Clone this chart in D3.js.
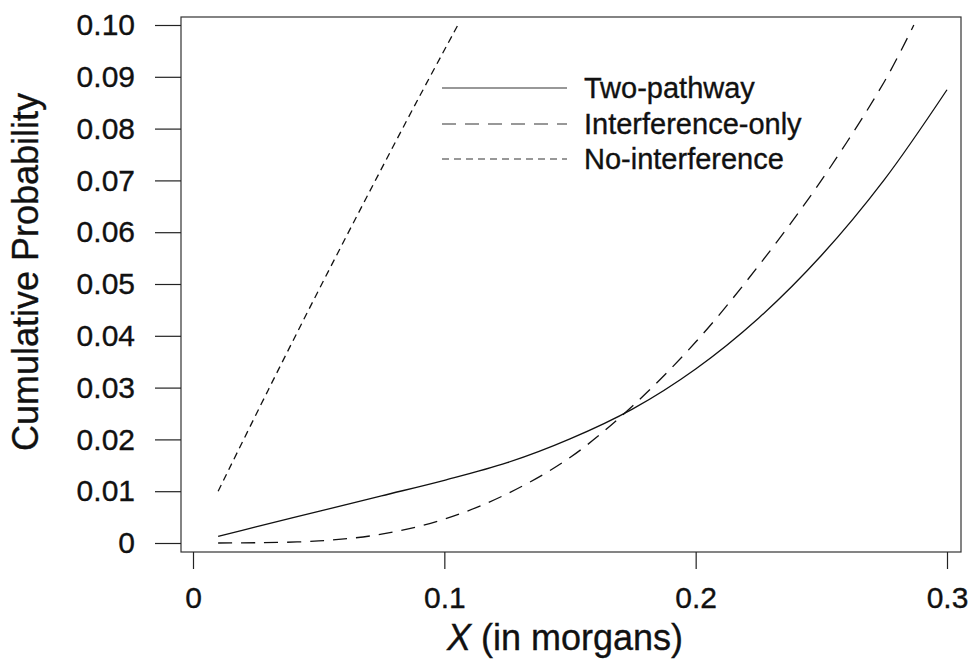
<!DOCTYPE html>
<html>
<head>
<meta charset="utf-8">
<script src="https://cdn.jsdelivr.net/npm/d3@7/dist/d3.min.js"></script>
<style>
  body { margin: 0; background: #fff; }
  text { font-family: "Liberation Sans", Arial, Helvetica, sans-serif; fill: #111; stroke: #111; stroke-width: 0.35px; }
</style>
</head>
<body>
<div id="chart"></div>
<script>
// values
var twoX = [0.01, 0.025, 0.05, 0.075, 0.1, 0.125, 0.15, 0.175, 0.2, 0.225, 0.25, 0.275, 0.3];
var twoP = [0.0013, 0.0031, 0.0061, 0.0091, 0.0121, 0.0155, 0.0201, 0.0259, 0.0336, 0.0434, 0.0555, 0.0701, 0.0875];

var intX = [0.01, 0.025, 0.05, 0.075, 0.1, 0.125, 0.15, 0.175, 0.2, 0.225, 0.25, 0.275, 0.2868];
var intP = [0, 0.00005, 0.0004, 0.0017, 0.0046, 0.0095, 0.0165, 0.0265, 0.0388, 0.0535, 0.0700, 0.0890, 0.1];

var noX = [0.01, 0.03, 0.05, 0.07, 0.09, 0.1054];
var noP = [0.01, 0.0296, 0.0488, 0.0676, 0.0861, 0.1];

var seriesNames = ["Two-pathway", "Interference-only", "No-interference"];
var xTicks = [0, 0.1, 0.2, 0.3];
var yTicks = [0, 0.01, 0.02, 0.03, 0.04, 0.05, 0.06, 0.07, 0.08, 0.09, 0.10];

var W = 971, H = 662;
var margin = {top: 17, right: 10, bottom: 110, left: 181};
var width = W - margin.left - margin.right,
    height = H - margin.top - margin.bottom;

var svg = d3.select("#chart").append("svg")
    .attr("width", W)
    .attr("height", H);

var g = svg.append("g")
    .attr("transform", "translate(" + margin.left + "," + margin.top + ")");

// scales (data area inset a bit from the frame)
var x = d3.scaleLinear().domain([0, 0.3]).range([12, 766]);
var y = d3.scaleLinear().domain([0, 0.1]).range([526, 8]);

// frame
g.append("rect")
    .attr("x", 0).attr("y", 0)
    .attr("width", width).attr("height", height)
    .attr("fill", "none")
    .attr("stroke", "#333")
    .attr("stroke-width", 1.2);

// Y axis
var yAxis = g.append("g")
    .call(d3.axisLeft(y).tickValues(yTicks).tickSize(26).tickPadding(20)
        .tickFormat(function(d) { return d === 0 ? "0" : d3.format(".2f")(d); }));
yAxis.select(".domain").remove();
yAxis.selectAll("line").attr("stroke", "#222").attr("stroke-width", 1.2);
yAxis.selectAll("text").style("font-size", "30px").attr("fill", "#111");

// X axis
var xAxis = g.append("g")
    .attr("transform", "translate(0," + height + ")")
    .call(d3.axisBottom(x).tickValues(xTicks).tickSize(17).tickPadding(18)
        .tickFormat(function(d) { return d === 0 ? "0" : d3.format(".1f")(d); }));
xAxis.select(".domain").remove();
xAxis.selectAll("line").attr("stroke", "#222").attr("stroke-width", 1.2);
xAxis.selectAll("text").style("font-size", "30px").attr("fill", "#111");

// axis titles
var xt = svg.append("text")
    .attr("x", 565)
    .attr("y", 650)
    .attr("text-anchor", "middle")
    .style("font-size", "36px");
xt.append("tspan").style("font-style", "italic").text("X");
xt.append("tspan").text(" (in morgans)");

svg.append("text")
    .attr("transform", "translate(38,272) rotate(-90)")
    .attr("text-anchor", "middle")
    .style("font-size", "36px")
    .text("Cumulative Probability");

// curves
var line = d3.line()
    .x(function(d) { return x(d[0]); })
    .y(function(d) { return y(d[1]); })
    .curve(d3.curveCatmullRom.alpha(0.5));

var dashes = [null, "14,9", "7,5"];
var curves = [d3.zip(twoX, twoP), d3.zip(intX, intP), d3.zip(noX, noP)];

g.selectAll("path.curve")
    .data(curves)
    .enter()
    .append("path")
    .attr("class", "curve")
    .attr("d", line)
    .attr("fill", "none")
    .attr("stroke", "#111")
    .attr("stroke-width", 1.3)
    .attr("stroke-dasharray", function(d, i) { return dashes[i]; });

// legend
var rowY = [71, 107, 142];
var leg = g.selectAll("g.leg")
    .data(seriesNames)
    .enter()
    .append("g")
    .attr("class", "leg")
    .attr("transform", function(d, i) { return "translate(261," + rowY[i] + ")"; });

leg.append("line")
    .attr("x1", 0).attr("x2", 125)
    .attr("y1", 0).attr("y2", 0)
    .attr("stroke", "#333")
    .attr("stroke-width", 1.2)
    .attr("stroke-dasharray", function(d, i) { return dashes[i]; });

leg.append("text")
    .attr("x", 142)
    .attr("dy", "0.34em")
    .style("font-size", "29px")
    .text(function(d) { return d; });
</script>
</body>
</html>
